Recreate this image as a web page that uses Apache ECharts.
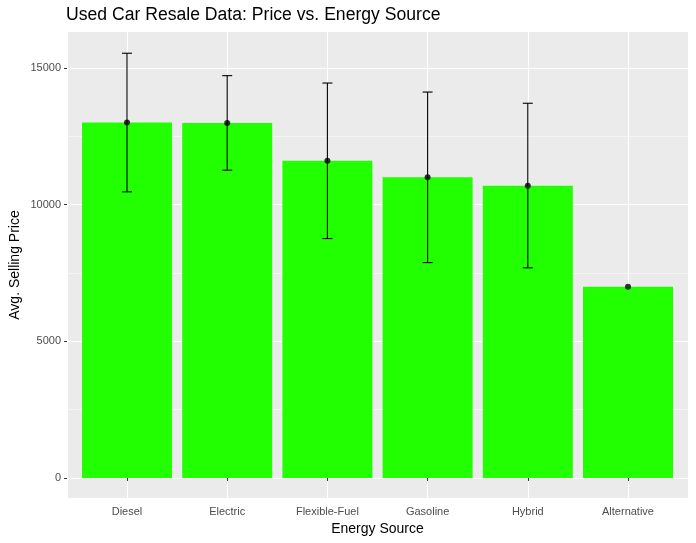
<!DOCTYPE html>
<html>
<head>
<meta charset="utf-8">
<script src="https://cdn.jsdelivr.net/npm/echarts@6/dist/echarts.min.js"></script>
<style>
html,body{margin:0;padding:0;background:#fff;}
#chart{width:696px;height:543px;}
</style>
</head>
<body>
<div id="chart"></div>
<script>
const categories = ['Diesel', 'Electric', 'Flexible-Fuel', 'Gasoline', 'Hybrid', 'Alternative'];
const avgPrice = [13010, 12990, 11610, 11000, 10690, 7000];
const errLow = [10470, 11260, 8760, 7880, 7690, null];
const errHigh = [15540, 14720, 14450, 14120, 13710, null];
const yTicks = [0, 5000, 10000, 15000];

const FONT = "'Liberation Sans', Arial, Helvetica, sans-serif";
const chart = echarts.init(document.getElementById('chart'), null, {renderer: 'canvas'});

const errData = [];
categories.forEach((c, i) => {
  if (errLow[i] != null && errHigh[i] != null) errData.push([i, errLow[i], errHigh[i]]);
});

const option = {
  animation: false,
  backgroundColor: '#ffffff',
  textStyle: {fontFamily: FONT},
  title: {
    text: 'Used Car Resale Data: Price vs. Energy Source',
    left: 66, top: 6, padding: 0,
    textStyle: {fontFamily: FONT, fontSize: 17.6, fontWeight: 'normal', color: '#000'}
  },
  grid: [
    {left: 67, top: 32, width: 621, height: 466, show: true, backgroundColor: '#EBEBEB', borderWidth: 0, containLabel: false},
    {left: 127, top: 32, width: 501, height: 466, show: false, containLabel: false},
    {left: 67, top: 68, width: 621, height: 410, show: false, containLabel: false}
  ],
  xAxis: [
    {gridIndex: 0, type: 'value', show: false},
    {
      gridIndex: 1, type: 'category', data: categories, boundaryGap: false,
      axisLine: {show: false},
      axisTick: {show: true, length: 3, interval: 0, lineStyle: {color: '#333', width: 1}},
      axisLabel: {interval: 0, color: '#4D4D4D', fontSize: 11, margin: 8, fontFamily: FONT},
      splitLine: {show: true, interval: 0, lineStyle: {color: '#ffffff', width: 1.1}},
      name: 'Energy Source', nameLocation: 'middle', nameGap: 24,
      nameTextStyle: {color: '#000', fontSize: 14, fontFamily: FONT}
    },
    {gridIndex: 2, type: 'value', show: false}
  ],
  yAxis: [
    {
      gridIndex: 0, type: 'value', min: 0, max: 1, show: true,
      axisLine: {show: false}, axisTick: {show: false}, axisLabel: {show: false}, splitLine: {show: false},
      name: 'Avg. Selling Price', nameLocation: 'middle', nameGap: 46,
      nameTextStyle: {color: '#000', fontSize: 14, fontFamily: FONT}
    },
    {gridIndex: 1, type: 'value', min: -732, max: 16317, show: false},
    {
      gridIndex: 2, type: 'value', min: yTicks[0], max: yTicks[yTicks.length - 1], interval: 5000,
      axisLine: {show: false},
      axisTick: {show: true, length: 3, lineStyle: {color: '#333', width: 1}},
      axisLabel: {color: '#4D4D4D', fontSize: 11, margin: 6, fontFamily: FONT,
        formatter: function (v) { return String(v); }},
      splitLine: {show: true, lineStyle: {color: '#ffffff', width: 1.1}},
      minorTick: {show: false, splitNumber: 2},
      minorSplitLine: {show: true, lineStyle: {color: '#ffffff', width: 0.5}}
    }
  ],
  series: [
    {
      type: 'bar', xAxisIndex: 1, yAxisIndex: 1, data: avgPrice,
      barWidth: 90, clip: false,
      itemStyle: {color: '#22FF00'}, z: 2
    },
    {
      type: 'custom', xAxisIndex: 1, yAxisIndex: 1, data: errData, clip: false, z: 3,
      encode: {x: 0, y: [1, 2]},
      renderItem: function (params, api) {
        const x = api.value(0);
        const lo = api.coord([x, api.value(1)]);
        const hi = api.coord([x, api.value(2)]);
        const hw = 5;
        const st = {stroke: '#000', lineWidth: 1.1};
        return {
          type: 'group',
          children: [
            {type: 'line', shape: {x1: lo[0], y1: lo[1], x2: hi[0], y2: hi[1]}, style: st},
            {type: 'line', shape: {x1: hi[0] - hw, y1: hi[1], x2: hi[0] + hw, y2: hi[1]}, style: st},
            {type: 'line', shape: {x1: lo[0] - hw, y1: lo[1], x2: lo[0] + hw, y2: lo[1]}, style: st}
          ]
        };
      }
    },
    {
      type: 'scatter', xAxisIndex: 1, yAxisIndex: 1, data: avgPrice,
      symbol: 'circle', symbolSize: 6, clip: false, z: 4,
      itemStyle: {color: '#000'}
    }
  ]
};
chart.setOption(option);
</script>
</body>
</html>
